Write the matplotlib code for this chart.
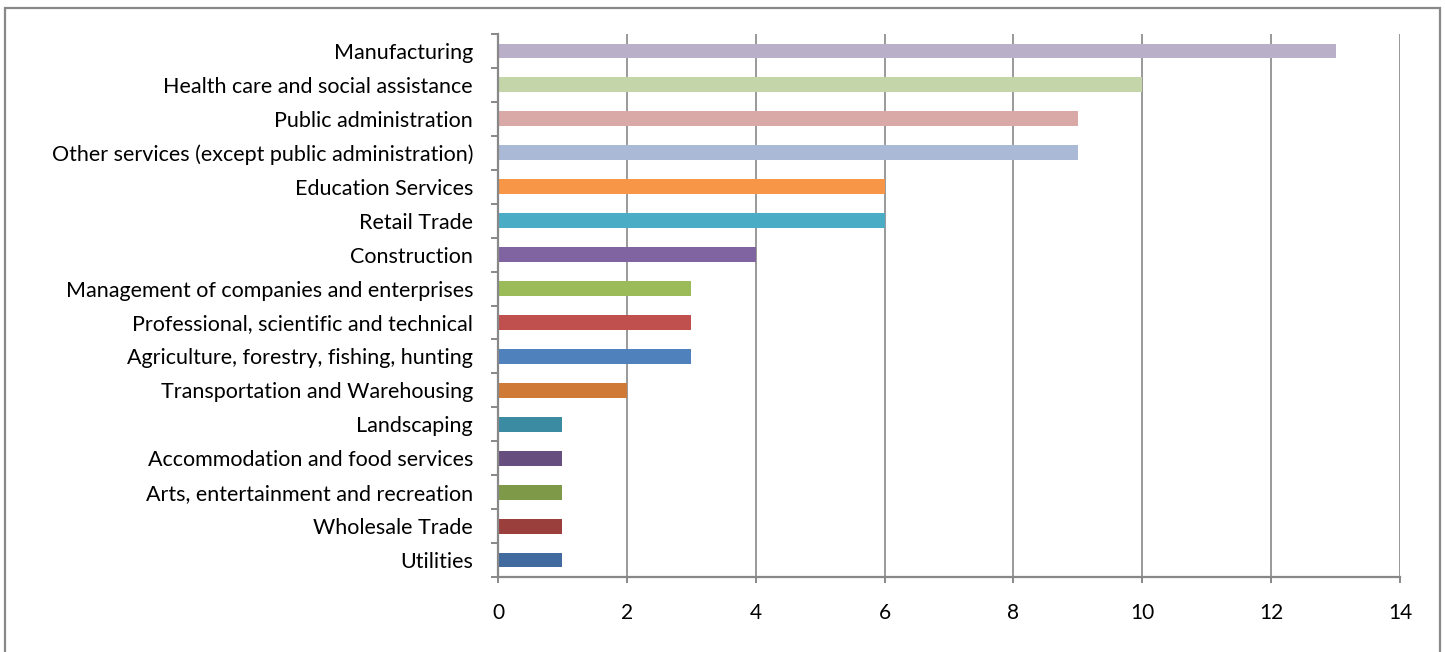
from matplotlib import pyplot as plt
from matplotlib.patches import Rectangle
import numpy as np

# categories listed bottom to top, as drawn
industries = ['Utilities', 'Wholesale Trade', 'Arts, entertainment and recreation',
              'Accommodation and food services', 'Landscaping',
              'Transportation and Warehousing',
              'Agriculture, forestry, fishing, hunting',
              'Professional, scientific and technical',
              'Management of companies and enterprises', 'Construction',
              'Retail Trade', 'Education Services',
              'Other services (except public administration)',
              'Public administration', 'Health care and social assistance',
              'Manufacturing']
counts = [1, 1, 1, 1, 1, 2, 3, 3, 3, 4, 6, 6, 9, 9, 10, 13]
bar_colors = ['#416A9F', '#9B3F3C', '#7E9A49', '#664F7F', '#3B8CA3',
              '#CF7B37', '#4F81BD', '#C0504D', '#9BBB59', '#8064A2',
              '#4BACC6', '#F79646', '#A9B9D6', '#D9A9A8', '#C4D6A9',
              '#B9AFC9']
x_ticks = [0, 2, 4, 6, 8, 10, 12, 14]

plt.rcParams['font.family'] = ['Lato', 'DejaVu Sans']
grey = '#888888'

fig = plt.figure(figsize=(14.45, 6.52), dpi=100)
W, H = 1445, 652
ax = fig.add_axes([498 / W, 1 - 577 / H, (1400 - 498) / W, (577 - 34) / H])

y = np.arange(len(industries))
ax.barh(y, counts, height=0.44, color=bar_colors, zorder=3)

ax.set_xlim(0, 14)
ax.set_ylim(-0.5, len(industries) - 0.5)
ax.set_xticks(x_ticks)
ax.set_xticklabels([str(t) for t in x_ticks])
ax.set_yticks(y)
ax.set_yticklabels(industries)
ax.set_yticks(np.arange(-0.5, len(industries), 1), minor=True)

ax.tick_params(axis='y', which='major', length=0, pad=18, labelsize=15.5)
ax.tick_params(axis='y', which='minor', length=5, width=1.4, color=grey,
               direction='out')
ax.tick_params(axis='x', length=4, width=1.4, color=grey, pad=15,
               labelsize=15)

ax.grid(axis='x', color=grey, linewidth=1.2, zorder=0)
for side in ['top', 'right']:
    ax.spines[side].set_visible(False)
for side in ['left', 'bottom']:
    ax.spines[side].set_color(grey)
    ax.spines[side].set_linewidth(1.6)
    ax.spines[side].set_zorder(4)

# outer chart frame
fig.patches.append(Rectangle((5 / W, -0.01), (1440 - 5) / W, 1.01 - 8 / H,
                             transform=fig.transFigure, fill=False,
                             edgecolor=grey, linewidth=1.6))

plt.savefig('out.png', dpi=100)
